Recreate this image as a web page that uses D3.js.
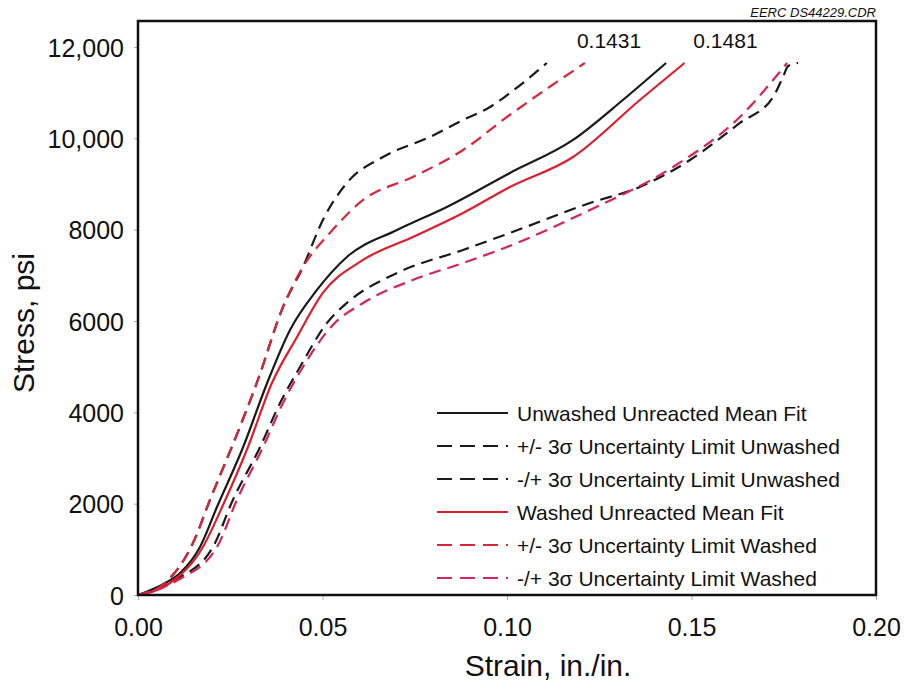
<!DOCTYPE html>
<html>
<head>
<meta charset="utf-8">
<script src="https://cdn.jsdelivr.net/npm/d3@7"></script>
<style>
  body { margin: 0; background: #fff; }
  svg text { font-family: "Liberation Sans", Arial, sans-serif; fill: #111; }
</style>
</head>
<body>
<div id="chart"></div>
<script>
// strain (in./in.) and stress (psi)
const unwashedMeanStrain = [0, 0.0079, 0.0114, 0.0168, 0.0214, 0.0285, 0.0350, 0.0412, 0.0485, 0.0566, 0.0702, 0.0837, 0.1008, 0.1179, 0.1314, 0.1431];
const unwashedMeanStress = [0, 285, 482, 1051, 1927, 3241, 4643, 5803, 6680, 7402, 7993, 8497, 9242, 9965, 10840, 11650];

const unwashedUpperStrain = [0, 0.0073, 0.0149, 0.0195, 0.0276, 0.0322, 0.0393, 0.0447, 0.0501, 0.0566, 0.0664, 0.0791, 0.0881, 0.0954, 0.1008, 0.1108];
const unwashedUpperStress = [0, 263, 1139, 2080, 3679, 4643, 6307, 7183, 8212, 9023, 9592, 10030, 10402, 10687, 10994, 11650];

const unwashedLowerStrain = [0, 0.0100, 0.0203, 0.0257, 0.0331, 0.0385, 0.0439, 0.0512, 0.0566, 0.0702, 0.0881, 0.1008, 0.1225, 0.1360, 0.1496, 0.1631, 0.1721, 0.1748, 0.1762, 0.1789];
const unwashedLowerStress = [0, 328, 1051, 2080, 3241, 4205, 4993, 5957, 6395, 7052, 7556, 7928, 8585, 8935, 9526, 10337, 10906, 11344, 11585, 11650];

const washedMeanStrain = [0, 0.0087, 0.0176, 0.0228, 0.0298, 0.0363, 0.0431, 0.0501, 0.0610, 0.0745, 0.0881, 0.1008, 0.1179, 0.1360, 0.1481];
const washedMeanStress = [0, 263, 1051, 1927, 3241, 4643, 5650, 6614, 7337, 7840, 8366, 8935, 9592, 10840, 11650];

const washedUpperStrain = [0, 0.0073, 0.0149, 0.0195, 0.0276, 0.0322, 0.0393, 0.0447, 0.0520, 0.0610, 0.0745, 0.0881, 0.1000, 0.1211];
const washedUpperStress = [0, 263, 1139, 2080, 3679, 4643, 6307, 7183, 7928, 8650, 9154, 9745, 10468, 11650];

const washedLowerStrain = [0, 0.0108, 0.0214, 0.0268, 0.0339, 0.0393, 0.0447, 0.0528, 0.0610, 0.0745, 0.0881, 0.1000, 0.1225, 0.1450, 0.1631, 0.1759];
const washedLowerStress = [0, 328, 1051, 2080, 3241, 4205, 4993, 5913, 6395, 6899, 7271, 7621, 8432, 9373, 10468, 11650];

const xTicks = [0, 0.05, 0.10, 0.15, 0.20];
const yTicks = [0, 2000, 4000, 6000, 8000, 10000, 12000];

// failure strain labels (placed left / right of the curve ends)
const endLabels = [
    { text: "0.1431", strain: 0.1431, dx: -57 },
    { text: "0.1481", strain: 0.1481, dx: 41 }
];

const series = [
    { name: "Unwashed Unreacted Mean Fit", strain: unwashedMeanStrain, stress: unwashedMeanStress, color: "#1a1a1a", dash: null },
    { name: "+/- 3\u03c3 Uncertainty Limit Unwashed", strain: unwashedUpperStrain, stress: unwashedUpperStress, color: "#1a1a1a", dash: "12,7" },
    { name: "-/+ 3\u03c3 Uncertainty Limit Unwashed", strain: unwashedLowerStrain, stress: unwashedLowerStress, color: "#1a1a1a", dash: "12,7" },
    { name: "Washed Unreacted Mean Fit", strain: washedMeanStrain, stress: washedMeanStress, color: "#db1f2c", dash: null },
    { name: "+/- 3\u03c3 Uncertainty Limit Washed", strain: washedUpperStrain, stress: washedUpperStress, color: "#d8253a", dash: "12,7" },
    { name: "-/+ 3\u03c3 Uncertainty Limit Washed", strain: washedLowerStrain, stress: washedLowerStress, color: "#d42458", dash: "12,7" }
];

const W = 904, H = 685;
const margin = {top: 21, right: 28, bottom: 90, left: 138};
const width = W - margin.left - margin.right;
const height = H - margin.top - margin.bottom;

const svg = d3.select("#chart").append("svg")
    .attr("width", W)
    .attr("height", H);

const g = svg.append("g")
    .attr("transform", `translate(${margin.left},${margin.top})`);

const x = d3.scaleLinear().domain([0, 0.20]).range([0, width]);
const y = d3.scaleLinear().domain([0, 12000 * 574 / 548]).range([height, 0]);

// 축
const xAxis = g.append("g")
    .attr("transform", `translate(0,${height})`)
    .call(d3.axisBottom(x).tickValues(xTicks).tickFormat(d3.format(".2f")).tickSize(5).tickPadding(18));
xAxis.select(".domain").remove();
xAxis.selectAll("line").attr("stroke", "#aaa");
xAxis.selectAll("text").style("font-size", "25px").attr("fill", "#111");

const yAxis = g.append("g")
    .call(d3.axisLeft(y).tickValues(yTicks).tickFormat(d => d >= 10000 ? d3.format(",")(d) : d).tickSize(4).tickPadding(10));
yAxis.select(".domain").remove();
yAxis.selectAll("line").attr("stroke", "#aaa");
yAxis.selectAll("text").style("font-size", "25px").attr("fill", "#111").attr("dy", "0.36em");

// 곡선
const line = d3.line()
    .x(d => x(d[0]))
    .y(d => y(d[1]))
    .curve(d3.curveMonotoneX);

series.forEach(s => {
    const pts = s.strain.map((v, i) => [v, s.stress[i]]);
    g.append("path")
        .datum(pts)
        .attr("fill", "none")
        .attr("stroke", s.color)
        .attr("stroke-width", 2.2)
        .attr("stroke-dasharray", s.dash)
        .attr("d", line);
});

// 끝 값 라벨
g.selectAll(".endLabel")
    .data(endLabels)
    .enter().append("text")
    .attr("x", d => x(d.strain) + d.dx)
    .attr("y", 27)
    .attr("text-anchor", "middle")
    .style("font-size", "21px")
    .text(d => d.text);

// 테두리
g.append("rect")
    .attr("width", width)
    .attr("height", height)
    .attr("fill", "none")
    .attr("stroke", "#111")
    .attr("stroke-width", 2.5);

// 범례
const legend = g.append("g")
    .attr("transform", `translate(${437 - margin.left},${413 - margin.top})`);
series.forEach((s, i) => {
    const row = legend.append("g").attr("transform", `translate(0,${i * 33})`);
    row.append("line")
        .attr("x1", 0).attr("x2", 71)
        .attr("stroke", s.color)
        .attr("stroke-width", 2.2)
        .attr("stroke-dasharray", s.dash ? "15,8" : null);
    row.append("text")
        .attr("x", 80)
        .attr("dy", "0.36em")
        .style("font-size", "21px")
        .text(s.name);
});

// 축 제목
svg.append("text")
    .attr("x", 548)
    .attr("y", 676)
    .attr("text-anchor", "middle")
    .style("font-size", "30px")
    .text("Strain, in./in.");

svg.append("text")
    .attr("transform", "translate(34,323) rotate(-90)")
    .attr("text-anchor", "middle")
    .style("font-size", "30px")
    .text("Stress, psi");

svg.append("text")
    .attr("x", 876)
    .attr("y", 17)
    .attr("text-anchor", "end")
    .style("font-size", "13px")
    .style("font-style", "italic")
    .attr("fill", "#333")
    .text("EERC DS44229.CDR");
</script>
</body>
</html>
